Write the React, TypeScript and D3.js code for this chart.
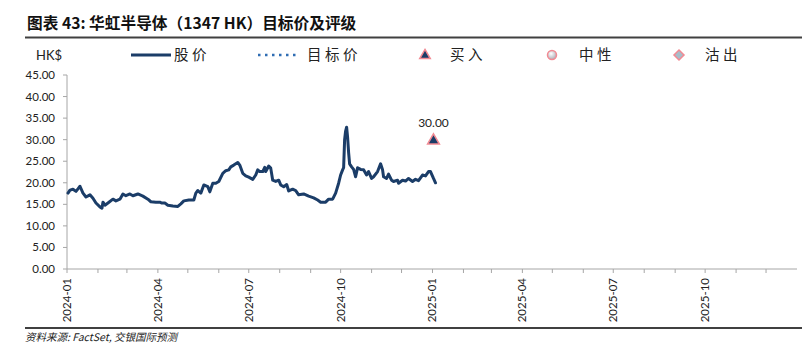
import React from "react";
import * as d3 from "d3";

const priceDates: string[] = [
  "2024-01-02","2024-01-04","2024-01-07","2024-01-10","2024-01-12","2024-01-14","2024-01-17","2024-01-20","2024-01-24","2024-01-27","2024-01-30",
  "2024-02-03","2024-02-05","2024-02-06","2024-02-08","2024-02-11","2024-02-16","2024-02-19","2024-02-23","2024-02-26","2024-02-29",
  "2024-03-04","2024-03-07","2024-03-12","2024-03-17","2024-03-22","2024-03-25","2024-03-30",
  "2024-04-03","2024-04-05","2024-04-08","2024-04-11","2024-04-16","2024-04-21","2024-04-24","2024-04-27",
  "2024-05-02","2024-05-07","2024-05-09","2024-05-11","2024-05-14","2024-05-17","2024-05-21","2024-05-23","2024-05-26","2024-05-29",
  "2024-06-01","2024-06-05","2024-06-08","2024-06-11","2024-06-13","2024-06-16","2024-06-20","2024-06-22","2024-06-25","2024-06-28",
  "2024-07-01","2024-07-05","2024-07-08","2024-07-10","2024-07-12","2024-07-15","2024-07-17","2024-07-18","2024-07-21","2024-07-23","2024-07-25","2024-07-28","2024-07-31",
  "2024-08-02","2024-08-05","2024-08-08","2024-08-10","2024-08-14","2024-08-17","2024-08-20","2024-08-25","2024-08-30",
  "2024-09-04","2024-09-08","2024-09-11","2024-09-16","2024-09-19","2024-09-23","2024-09-26","2024-09-29",
  "2024-10-01","2024-10-03","2024-10-04","2024-10-05","2024-10-06","2024-10-07","2024-10-08","2024-10-09","2024-10-10","2024-10-12","2024-10-14","2024-10-16","2024-10-18","2024-10-21","2024-10-24","2024-10-27","2024-10-29",
  "2024-11-01","2024-11-03","2024-11-07","2024-11-10","2024-11-12","2024-11-13","2024-11-16","2024-11-18","2024-11-21","2024-11-23","2024-11-27","2024-11-28",
  "2024-12-02","2024-12-05","2024-12-08","2024-12-12","2024-12-15","2024-12-18","2024-12-22","2024-12-25","2024-12-28","2024-12-30",
  "2025-01-02","2025-01-04"
];

const priceValues: number[] = [
  17.6,18.3,18.5,18.0,18.6,19.2,17.6,16.7,17.2,16.4,15.3,
  14.4,14.1,15.5,14.8,15.3,16.2,15.8,16.2,17.4,17.0,
  17.4,17.0,17.4,16.9,16.2,15.6,15.5,
  15.5,15.3,15.3,14.8,14.6,14.5,15.1,15.8,
  16.0,16.0,17.6,18.2,17.6,19.5,19.1,17.9,19.9,19.9,
  20.3,22.2,22.8,23.0,23.7,24.1,24.7,24.1,22.2,21.6,
  21.3,20.8,21.8,23.0,22.6,22.6,23.6,22.6,23.9,23.4,20.6,20.3,20.6,
  19.5,19.1,19.6,18.1,18.5,18.2,17.2,17.4,16.9,
  16.5,16.0,15.5,15.5,16.2,16.2,17.6,19.9,
  21.8,23.0,23.5,30.0,32.0,32.9,30.5,27.0,24.4,23.7,23.1,21.4,23.5,23.1,23.0,21.8,22.6,
  21.0,21.4,22.6,24.4,23.0,21.4,21.0,22.0,20.6,20.3,20.6,19.9,
  20.6,20.4,21.0,20.3,20.8,20.5,21.8,21.6,22.6,22.6,
  21.0,20.0
];

const targetDates: string[] = ["2025-01-02"];
const targetValues: number[] = [30.0];
const targetRatings: string[] = ["买入"];

const yTicks: number[] = [0, 5, 10, 15, 20, 25, 30, 35, 40, 45];
const xLabelMonths: string[] = ["2024-01", "2024-04", "2024-07", "2024-10", "2025-01", "2025-04", "2025-07", "2025-10"];

const titleText = "图表 43: 华虹半导体（1347 HK）目标价及评级";
const sourceText = "资料来源: FactSet, 交银国际预测";
const unitText = "HK$";
const legendLabels: string[] = ["股价", "目标价", "买入", "中性", "沽出"];

const LINE_COLOR = "#1b3d68";
const PINK = "#f28a93";
const LATIN = "Lato, 'Open Sans', 'Noto Sans', sans-serif";
const CJK = "'Noto Sans CJK SC', 'Noto Sans', sans-serif";

export default function App() {
  const parse = d3.timeParse("%Y-%m-%d");
  const x = d3
    .scaleTime()
    .domain([new Date(2024, 0, 1), new Date(2026, 0, 1)])
    .range([67, 797]);
  const y = d3.scaleLinear().domain([0, 45]).range([269, 75]);

  const pts = priceDates.map((d, i) => ({ date: parse(d) as Date, v: priceValues[i] }));
  const line = d3
    .line<{ date: Date; v: number }>()
    .x((d) => x(d.date))
    .y((d) => y(d.v));

  const months = d3.timeMonth.range(new Date(2024, 0, 1), new Date(2026, 0, 1));
  const labelSet = new Set(xLabelMonths);
  const fmt = d3.timeFormat("%Y-%m");

  const tri = d3.symbol().type(d3.symbolTriangle).size(60)();
  const triLegend = d3.symbol().type(d3.symbolTriangle).size(48)();
  const diamond = d3.symbol().type(d3.symbolSquare).size(50)();

  const legendY = 55;

  return (
    <svg
      width={804}
      height={355}
      style={{ position: "absolute", left: 0, top: 0, background: "#fff" }}
    >
      <defs>
        <radialGradient id="neutralGrad" cx="40%" cy="35%" r="70%">
          <stop offset="0%" stopColor="#ffffff" />
          <stop offset="100%" stopColor="#a9a9b3" />
        </radialGradient>
      </defs>
      <rect width={804} height={355} fill="#fff" />

      {/* title */}
      <text x={27} y={29} fontFamily={CJK} fontWeight={700} fontSize={15.7} fill="#111">
        {titleText}
      </text>
      <line x1={25} x2={802} y1={37.5} y2={37.5} stroke="#404040" strokeWidth={2} />

      {/* legend */}
      <text x={36} y={legendY + 4.5} fontFamily={LATIN} fontSize={13} fill="#222">
        {unitText}
      </text>
      <line x1={131} x2={171} y1={legendY} y2={legendY} stroke={LINE_COLOR} strokeWidth={3} />
      <text x={174} y={legendY + 5} fontFamily={CJK} fontSize={14.5} letterSpacing={3.5} fill="#222">
        {legendLabels[0]}
      </text>
      <line
        x1={258}
        x2={298}
        y1={legendY}
        y2={legendY}
        stroke="#2f6db3"
        strokeWidth={2.5}
        strokeDasharray="2.5 4.5"
      />
      <text x={307} y={legendY + 5} fontFamily={CJK} fontSize={14.5} letterSpacing={3.5} fill="#222">
        {legendLabels[1]}
      </text>
      <path
        d={triLegend}
        transform={`translate(425,${legendY + 0.5})`}
        fill={LINE_COLOR}
        stroke={PINK}
        strokeWidth={1.5}
      />
      <text x={450} y={legendY + 5} fontFamily={CJK} fontSize={14.5} letterSpacing={3.5} fill="#222">
        {legendLabels[2]}
      </text>
      <circle cx={552} cy={legendY} r={4.5} fill="url(#neutralGrad)" stroke={PINK} strokeWidth={1.5} />
      <text x={579} y={legendY + 5} fontFamily={CJK} fontSize={14.5} letterSpacing={3.5} fill="#222">
        {legendLabels[3]}
      </text>
      <path
        d={diamond}
        transform={`translate(679,${legendY}) rotate(45)`}
        fill="#a7bdc9"
        stroke={PINK}
        strokeWidth={1.5}
      />
      <text x={705} y={legendY + 5} fontFamily={CJK} fontSize={14.5} letterSpacing={3.5} fill="#222">
        {legendLabels[4]}
      </text>

      {/* y axis */}
      <line x1={67} x2={67} y1={y(45)} y2={y(0)} stroke="#a6a6a6" strokeWidth={1} />
      {yTicks.map((t) => (
        <g key={t}>
          <line x1={63} x2={67} y1={y(t)} y2={y(t)} stroke="#a6a6a6" strokeWidth={1} />
          <text
            x={55}
            y={y(t) + 4}
            textAnchor="end"
            fontFamily={LATIN}
            fontSize={11.5}
            fill="#222"
          >
            {t.toFixed(2)}
          </text>
        </g>
      ))}

      {/* x axis */}
      <line x1={67} x2={797} y1={y(0)} y2={y(0)} stroke="#a6a6a6" strokeWidth={1} />
      {months.map((m) => {
        const px = x(m);
        const key = fmt(m);
        return (
          <g key={key}>
            <line x1={px} x2={px} y1={y(0)} y2={y(0) + 4} stroke="#a6a6a6" strokeWidth={1} />
            {labelSet.has(key) && (
              <text
                transform={`translate(${px + 4},${y(0) + 9}) rotate(-90)`}
                textAnchor="end"
                fontFamily={LATIN}
                fontSize={11.5}
                fill="#222"
              >
                {key}
              </text>
            )}
          </g>
        );
      })}

      {/* price line */}
      <path
        d={line(pts) || ""}
        fill="none"
        stroke={LINE_COLOR}
        strokeWidth={3}
        strokeLinejoin="round"
        strokeLinecap="round"
      />

      {/* target price / rating */}
      {targetDates.map((d, i) => {
        const px = x(parse(d) as Date);
        const py = y(targetValues[i]);
        return (
          <g key={d}>
            <path
              d={tri}
              transform={`translate(${px},${py + 1})`}
              fill={LINE_COLOR}
              stroke={PINK}
              strokeWidth={1.5}
            >
              <title>{targetRatings[i]}</title>
            </path>
            <text
              x={px}
              y={py - 13}
              textAnchor="middle"
              fontFamily={LATIN}
              fontSize={12}
              fill="#222"
            >
              {targetValues[i].toFixed(2)}
            </text>
          </g>
        );
      })}

      {/* footer */}
      <line x1={25} x2={802} y1={328} y2={328} stroke="#404040" strokeWidth={2} />
      <text
        x={25}
        y={341}
        fontFamily={CJK}
        fontStyle="italic"
        fontSize={10.5}
        fill="#222"
      >
        {sourceText}
      </text>
    </svg>
  );
}
